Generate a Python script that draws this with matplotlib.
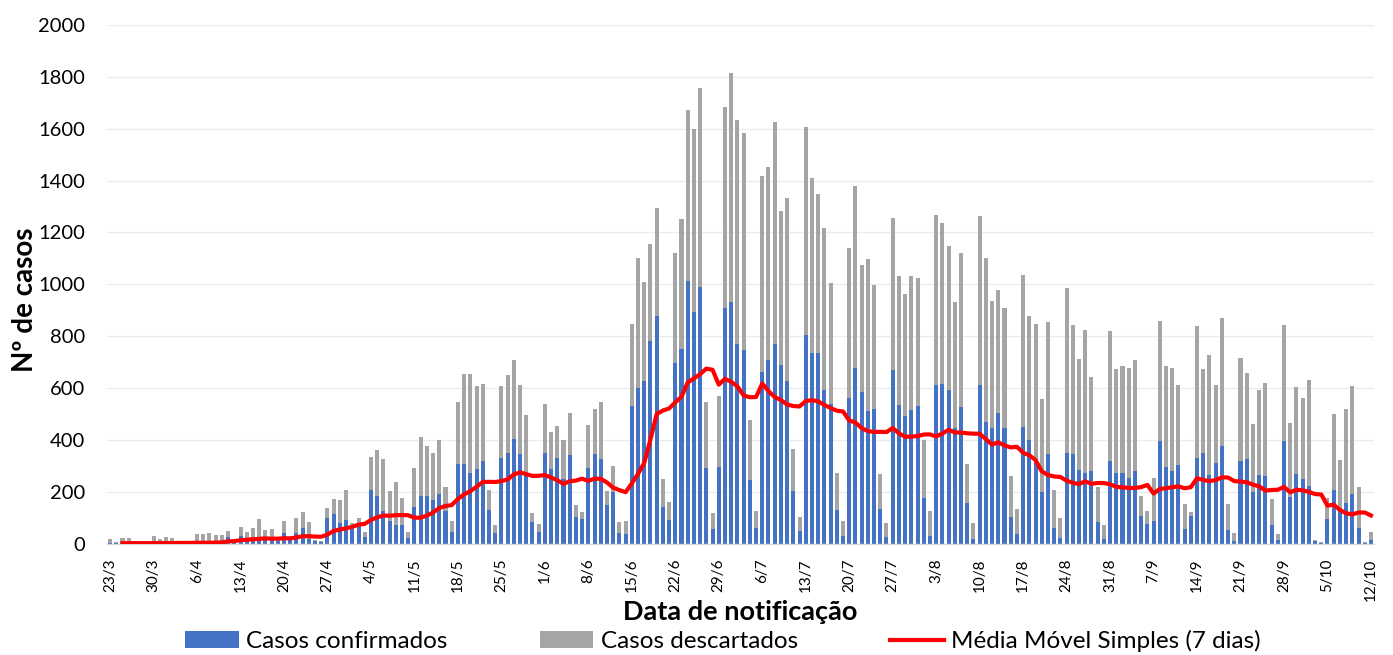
import matplotlib
matplotlib.use('Agg')
import matplotlib.pyplot as plt
import numpy as np
import pandas as pd

# casos por dia de notificação, 23/3 a 12/10
CONFIRMADOS = [
    2, 1, 1, 2, 1, 1, 1,
    3, 2, 3, 3, 2, 1, 1,
    5, 4, 6, 5, 10, 27, 8,
    30, 17, 17, 23, 17, 19, 8,
    42, 14, 40, 58, 17, 8, 5,
    100, 113, 78, 91, 55, 68, 26,
    206, 184, 126, 85, 71, 71, 21,
    139, 184, 184, 167, 192, 126, 46,
    306, 305, 271, 287, 320, 130, 42,
    330, 351, 403, 346, 270, 84, 45,
    349, 287, 328, 248, 340, 104, 94,
    291, 345, 325, 149, 199, 40, 36,
    531, 600, 626, 782, 878, 139, 89,
    698, 751, 1011, 892, 991, 291, 56,
    297, 908, 932, 768, 746, 244, 60,
    661, 706, 770, 687, 626, 202, 49,
    805, 735, 733, 593, 540, 131, 29,
    563, 677, 584, 511, 518, 133, 25,
    669, 536, 491, 516, 531, 175, 29,
    612, 616, 591, 445, 528, 155, 19,
    610, 470, 446, 503, 445, 102, 36,
    450, 401, 316, 200, 346, 61, 22,
    350, 344, 283, 273, 279, 84, 19,
    318, 273, 273, 254, 279, 108, 77,
    86, 395, 295, 279, 303, 57, 106,
    328, 348, 263, 309, 376, 52, 9,
    317, 327, 200, 263, 260, 71, 13,
    395, 181, 270, 247, 220, 9, 2,
    94, 206, 129, 155, 192, 59, 3,
    14,
]

DESCARTADOS = [
    17, 5, 20, 19, 3, 2, 2,
    27, 15, 24, 18, 8, 4, 2,
    30, 31, 36, 28, 22, 22, 7,
    34, 28, 42, 73, 34, 36, 6,
    45, 13, 59, 63, 65, 6, 5,
    38, 58, 89, 115, 26, 32, 19,
    126, 176, 199, 118, 167, 103, 25,
    154, 228, 193, 184, 207, 91, 39,
    238, 348, 384, 321, 296, 76, 31,
    276, 298, 304, 266, 226, 33, 30,
    189, 144, 126, 151, 162, 45, 26,
    166, 175, 219, 55, 100, 42, 50,
    314, 500, 382, 374, 417, 109, 73,
    422, 502, 660, 706, 767, 253, 63,
    272, 775, 882, 866, 838, 234, 65,
    755, 747, 857, 595, 705, 162, 53,
    802, 673, 614, 623, 465, 140, 59,
    577, 702, 490, 588, 481, 135, 53,
    588, 494, 471, 514, 495, 226, 96,
    655, 621, 556, 487, 593, 153, 61,
    653, 631, 490, 475, 464, 157, 97,
    585, 477, 532, 356, 507, 144, 75,
    635, 500, 428, 551, 364, 135, 52,
    502, 399, 410, 423, 427, 77, 48,
    165, 463, 390, 397, 309, 94, 16,
    512, 327, 463, 304, 495, 101, 32,
    397, 331, 260, 328, 359, 100, 23,
    446, 284, 334, 316, 409, 5, 3,
    83, 295, 193, 365, 417, 158, 1,
    32,
]

ROTULOS = ['23/3', '30/3', '6/4', '13/4', '20/4', '27/4', '4/5', '11/5',
           '18/5', '25/5', '1/6', '8/6', '15/6', '22/6', '29/6', '6/7',
           '13/7', '20/7', '27/7', '3/8', '10/8', '17/8', '24/8', '31/8',
           '7/9', '14/9', '21/9', '28/9', '5/10', '12/10']

AZUL = '#4472C4'
CINZA = '#A5A5A5'
VERMELHO = '#FF0000'

plt.rcParams['font.family'] = ['Lato', 'DejaVu Sans']

dias = np.arange(len(CONFIRMADOS))
media_movel = pd.Series(CONFIRMADOS).rolling(7, min_periods=1).mean()

fig = plt.figure(figsize=(13.93, 6.55), dpi=100)
ax = fig.add_axes([0.0768, 0.1702, 0.9096, 0.7916])

b1 = ax.bar(dias, CONFIRMADOS, width=0.65, color=AZUL, label='Casos confirmados', zorder=2)
b2 = ax.bar(dias, DESCARTADOS, width=0.65, bottom=CONFIRMADOS, color=CINZA,
            label='Casos descartados', zorder=2)
l1, = ax.plot(dias[2:], media_movel[2:], color=VERMELHO, linewidth=3,
              label='Média Móvel Simples (7 dias)', zorder=3)

ax.set_xlim(-0.5, len(dias) - 0.5)
ax.set_ylim(0, 2000)
ax.set_yticks(range(0, 2001, 200))
ax.set_xticks(dias[::7])
ax.set_xticklabels(ROTULOS, rotation=90, fontsize=11)
ax.tick_params(axis='x', length=0, pad=11)
ax.tick_params(axis='y', length=0, pad=16, labelsize=14.5)

ax.grid(axis='y', color='#EBEBEB', linewidth=0.9, zorder=0)
for lado in ['top', 'right', 'left']:
    ax.spines[lado].set_visible(False)
ax.spines['bottom'].set_color('#D9D9D9')
ax.spines['bottom'].set_linewidth(1)

ax.set_xlabel('Data de notificação', fontsize=19.5, fontweight='bold', va='center')
ax.xaxis.set_label_coords(0.5, -0.132)
ax.set_ylabel('Nº de casos', fontsize=20, fontweight='bold', va='center')
ax.yaxis.set_label_coords(-0.0647, 0.47)

fig.legend(handles=[b1, b2, l1], loc='center', bbox_to_anchor=(0.519, 0.0214),
           ncol=3, frameon=False, fontsize=17.5, handlelength=2.2,
           handleheight=0.64, handletextpad=0.3, columnspacing=3.8,
           borderaxespad=0)

fig.savefig('out.png', dpi=100)
